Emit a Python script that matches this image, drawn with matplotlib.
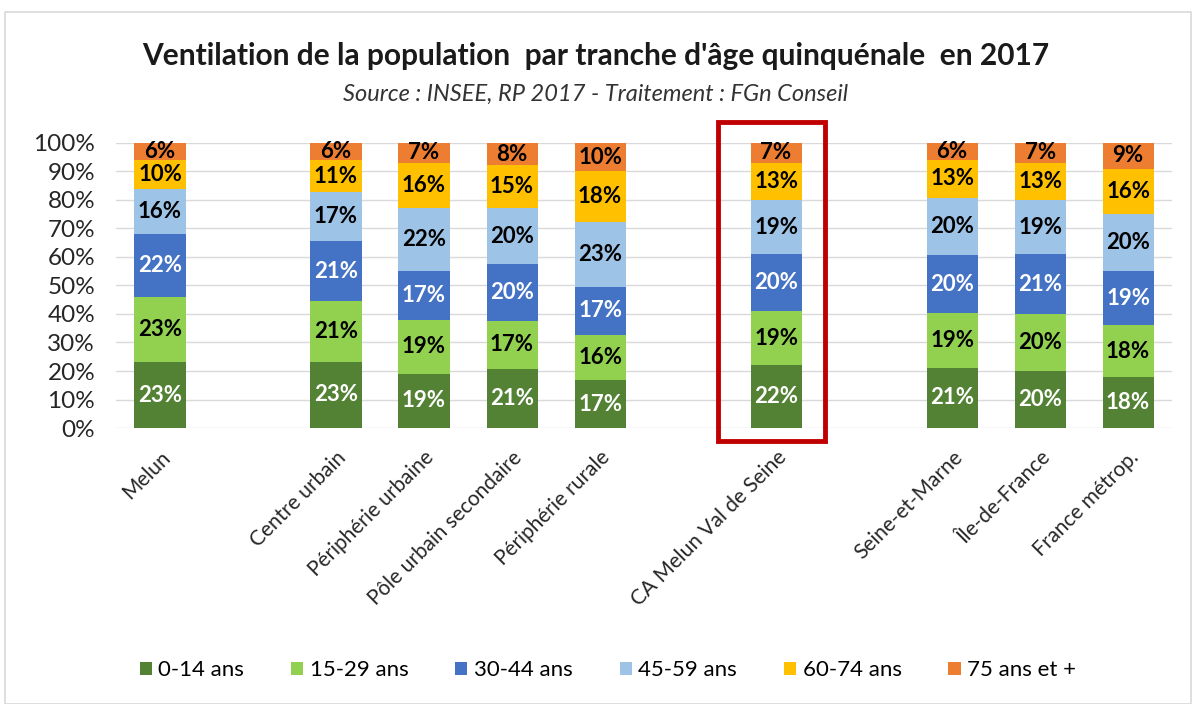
import matplotlib
matplotlib.use("Agg")
import matplotlib.pyplot as plt
from matplotlib.patches import Rectangle
import numpy as np

plt.rcParams['font.family'] = ['Lato', 'DejaVu Sans']

categories = ["Melun", "", "Centre urbain", "Périphérie urbaine", "Pôle urbain secondaire",
              "Périphérie rurale", "", "CA Melun Val de Seine", "", "Seine-et-Marne",
              "Île-de-France", "France métrop."]
series_names = ["0-14 ans", "15-29 ans", "30-44 ans", "45-59 ans", "60-74 ans", "75 ans et +"]
# values per series, per category (None = empty slot)
s0_14 = [23, None, 23, 19, 21, 17, None, 22, None, 21, 20, 18]
s15_29 = [23, None, 21, 19, 17, 16, None, 19, None, 19, 20, 18]
s30_44 = [22, None, 21, 17, 20, 17, None, 20, None, 20, 21, 19]
s45_59 = [16, None, 17, 22, 20, 23, None, 19, None, 20, 19, 20]
s60_74 = [10, None, 11, 16, 15, 18, None, 13, None, 13, 13, 16]
s75 = [6, None, 6, 7, 8, 10, None, 7, None, 6, 7, 9]
series = [s0_14, s15_29, s30_44, s45_59, s60_74, s75]
colors = ["#548235", "#92D050", "#4472C4", "#9DC3E6", "#FFC000", "#ED7D31"]
label_colors = ["white", "black", "white", "black", "black", "black"]
highlight = "CA Melun Val de Seine"

fig = plt.figure(figsize=(11.92, 7.04), dpi=100)
fig.patches.append(Rectangle((0.004, 0.0), 0.995, 0.983, transform=fig.transFigure,
                             fill=False, edgecolor="#d9d9d9", linewidth=1.2))
ax = fig.add_axes([0.0973, 0.392, 0.886, 0.405])

x = np.arange(len(categories))
vals = np.array([[np.nan if v is None else v for v in s] for s in series], dtype=float)
totals = np.nansum(vals, axis=0)
width = 0.58
bottom = np.zeros(len(categories))
for i, (name, col) in enumerate(zip(series_names, colors)):
    frac = np.where(np.isnan(vals[i]), 0, vals[i] / np.where(totals == 0, 1, totals))
    mask = ~np.isnan(vals[i])
    ax.bar(x[mask], frac[mask], width, bottom=bottom[mask], color=col, label=name, zorder=3)
    for xi, b, f, v in zip(x[mask], bottom[mask], frac[mask], vals[i][mask]):
        ax.text(xi, b + f / 2, f"{int(v)}%", ha="center", va="center",
                fontsize=16, fontweight="bold", color=label_colors[i], zorder=4)
    bottom = bottom + frac

ax.set_xlim(-0.5, len(categories) - 0.5)
ax.set_ylim(0, 1)
ax.set_yticks(np.linspace(0, 1, 11))
ax.set_yticklabels([f"{int(round(t*100))}%" for t in np.linspace(0, 1, 11)], fontsize=17.5, color="#262626")
ax.grid(axis="y", color="#d9d9d9", linewidth=1, zorder=0)
ax.set_xticks(x)
ax.set_xticklabels(categories, rotation=45, ha="right", rotation_mode="anchor", fontsize=15, color="#262626")
ax.tick_params(axis="both", length=0)
ax.tick_params(axis="x", pad=14)
ax.tick_params(axis="y", pad=15)
for sp in ax.spines.values():
    sp.set_visible(False)

hi = categories.index(highlight)
ax.add_patch(Rectangle((hi - 0.66, -0.046), 1.22, 1.12, fill=False, edgecolor="#C00000",
                       linewidth=3.5, clip_on=False, zorder=5))

fig.text(0.5, 0.921, "Ventilation de la population  par tranche d'âge quinquénale  en 2017",
         ha="center", va="center", fontsize=21.5, fontweight="bold", color="#1a1a1a")
fig.text(0.5, 0.866, "Source : INSEE, RP 2017 - Traitement : FGn Conseil",
         ha="center", va="center", fontsize=17, style="italic", color="#333333")

fig.legend(loc="center", bbox_to_anchor=(0.51, 0.048), ncol=6, frameon=False,
           fontsize=16, handlelength=0.55, handleheight=0.55, handletextpad=0.3, columnspacing=2.1)

fig.savefig("out.png", dpi=100, facecolor="white")
